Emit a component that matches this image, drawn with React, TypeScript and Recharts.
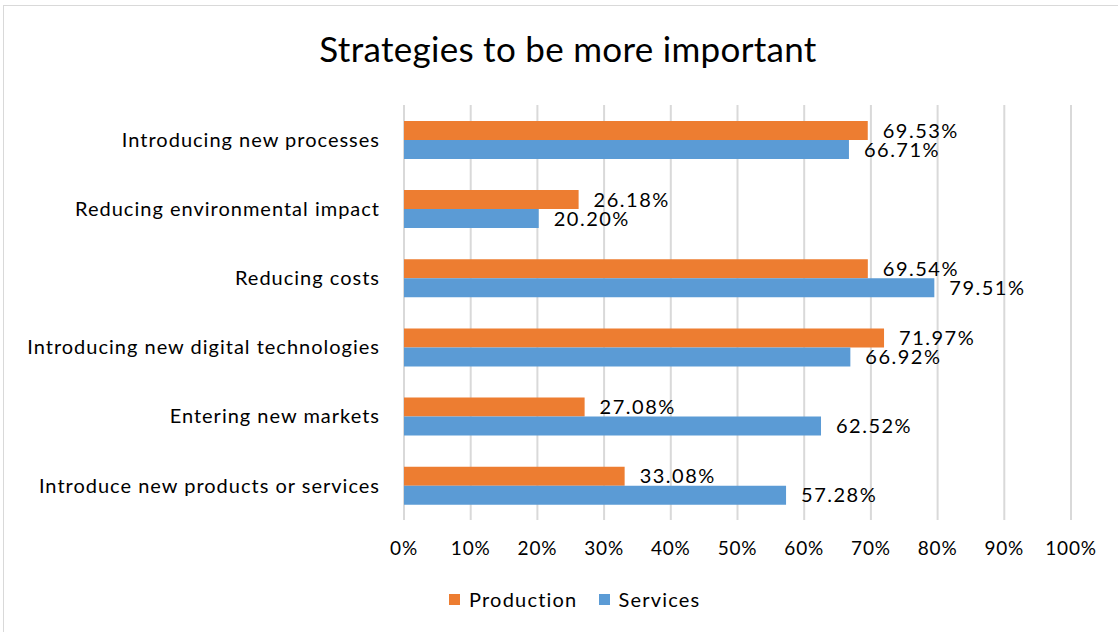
import React from 'react';
import {
  BarChart,
  Bar,
  XAxis,
  YAxis,
  CartesianGrid,
  Legend,
  LabelList,
} from 'recharts';

const categories = [
  'Introducing new processes',
  'Reducing environmental impact',
  'Reducing costs',
  'Introducing new digital technologies',
  'Entering new markets',
  'Introduce new products or services',
];
const production = [69.53, 26.18, 69.54, 71.97, 27.08, 33.08];
const services = [66.71, 20.2, 79.51, 66.92, 62.52, 57.28];
const xTicks = [0, 10, 20, 30, 40, 50, 60, 70, 80, 90, 100];

const FONT = 'Lato, "Liberation Sans", sans-serif';
const ORANGE = '#ED7D31';
const BLUE = '#5B9BD5';

const data = categories.map((name, i) => ({
  name,
  production: production[i],
  services: services[i],
}));

const pct = (v: number) => `${v.toFixed(2)}%`;

const LegendContent = () => (
  <div style={{ display: 'flex', alignItems: 'center', fontFamily: FONT, fontSize: 20, color: '#000', letterSpacing: 1.2, whiteSpace: 'nowrap' }}>
    <span style={{ width: 11, height: 11, background: ORANGE, display: 'inline-block', marginRight: 9 }} />
    <span style={{ marginRight: 22 }}>Production</span>
    <span style={{ width: 11, height: 11, background: BLUE, display: 'inline-block', marginRight: 8 }} />
    <span>Services</span>
  </div>
);

export default function App() {
  return (
    <div style={{ position: 'absolute', left: 0, top: 0, width: 1118, height: 632, overflow: 'hidden', background: '#fff' }}>
      <div style={{ position: 'absolute', left: 3, top: 5, width: 1130, height: 640, border: '1px solid #d9d9d9', boxSizing: 'border-box' }} />
      <div style={{ position: 'absolute', left: 0, top: 27, width: 1136, textAlign: 'center', fontFamily: FONT, fontSize: 35, fontWeight: 400, color: '#000', letterSpacing: 0.3 }}>
        Strategies to be more important
      </div>
      <div style={{ position: 'absolute', left: 0, top: 0 }}>
        <BarChart
          width={1118}
          height={632}
          data={data}
          layout="vertical"
          margin={{ top: 105, right: 47, bottom: 72, left: 0 }}
          barCategoryGap="23%"
          barGap={0}
        >
          <CartesianGrid horizontal={false} stroke="#d9d9d9" strokeWidth={2} />
          <XAxis
            type="number"
            domain={[0, 100]}
            ticks={xTicks}
            tickFormatter={(v: number) => `${v}%`}
            axisLine={false}
            tickLine={false}
            tickMargin={16}
            height={40}
            interval={0}
            tick={{ fontFamily: FONT, fontSize: 19, fill: '#000', letterSpacing: 0.8 }}
          />
          <YAxis
            type="category"
            dataKey="name"
            width={404}
            axisLine={false}
            tickLine={false}
            tickMargin={18}
            interval={0}
            tick={{ fontFamily: FONT, fontSize: 20, fill: '#000', letterSpacing: 1.0 }}
          />
          <Legend
            verticalAlign="middle"
            align="center"
            content={<LegendContent />}
            wrapperStyle={{ left: 449, top: 587, width: 320 }}
          />
          <Bar dataKey="production" name="Production" fill={ORANGE} isAnimationActive={false}>
            <LabelList
              dataKey="production"
              position="right"
              offset={15}
              formatter={pct}
              style={{ fontFamily: FONT, fontSize: 20, fill: '#000', letterSpacing: 1.5 }}
            />
          </Bar>
          <Bar dataKey="services" name="Services" fill={BLUE} isAnimationActive={false}>
            <LabelList
              dataKey="services"
              position="right"
              offset={15}
              formatter={pct}
              style={{ fontFamily: FONT, fontSize: 20, fill: '#000', letterSpacing: 1.5 }}
            />
          </Bar>
        </BarChart>
      </div>
    </div>
  );
}
